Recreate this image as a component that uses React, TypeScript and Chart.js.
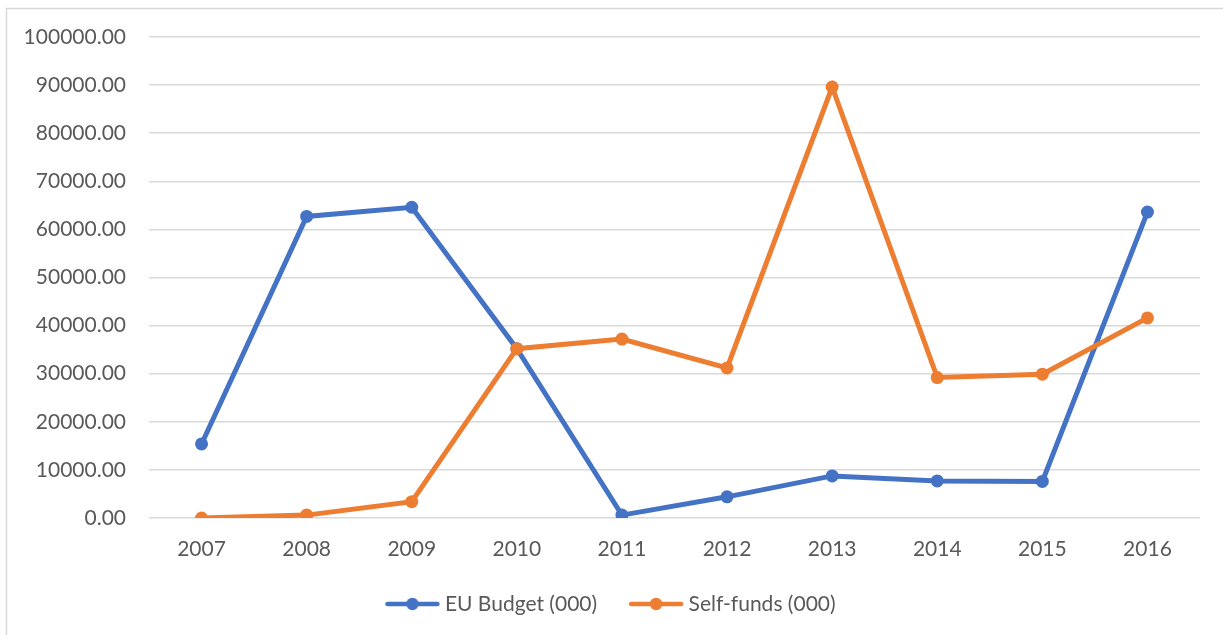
import React, { useEffect, useRef } from "react";
import { Chart, registerables } from "chart.js";

Chart.register(...registerables);

const years = ["2007", "2008", "2009", "2010", "2011", "2012", "2013", "2014", "2015", "2016"];
const euBudget = [15400, 62700, 64600, 35200, 600, 4400, 8750, 7700, 7600, 63600];
const selfFunds = [0, 600, 3400, 35200, 37200, 31200, 89600, 29200, 29900, 41600];
const seriesNames = ["EU Budget (000)", "Self-funds (000)"];
const seriesColors = ["#4472C4", "#ED7D31"];
const yMin = 0;
const yMax = 100000;
const yStep = 10000;

const FONT = "Lato, 'Open Sans', 'Liberation Sans', sans-serif";
const TEXT_COLOR = "#595959";
const GRID_COLOR = "#d9d9d9";

function legendSymbol(color: string): HTMLCanvasElement {
  const c = document.createElement("canvas");
  c.width = 82;
  c.height = 14;
  const ctx = c.getContext("2d")!;
  ctx.strokeStyle = color;
  ctx.lineWidth = 4.5;
  ctx.lineCap = "round";
  ctx.beginPath();
  ctx.moveTo(29, 7);
  ctx.lineTo(79, 7);
  ctx.stroke();
  ctx.fillStyle = color;
  ctx.beginPath();
  ctx.arc(54, 7, 6.2, 0, Math.PI * 2);
  ctx.fill();
  return c;
}

const frameBorder = {
  id: "frameBorder",
  beforeDraw(chart: any) {
    const ctx = chart.ctx;
    ctx.save();
    ctx.strokeStyle = GRID_COLOR;
    ctx.lineWidth = 1.5;
    ctx.beginPath();
    ctx.moveTo(6.5, 635);
    ctx.lineTo(6.5, 8.5);
    ctx.lineTo(1223, 8.5);
    ctx.stroke();
    ctx.restore();
  },
};

export default function App() {
  const ref = useRef<HTMLCanvasElement | null>(null);

  useEffect(() => {
    document.body.style.margin = "0";
    const canvas = ref.current;
    if (!canvas) return;
    const symbols = seriesColors.map((c) => legendSymbol(c));
    const seriesData = [euBudget, selfFunds];

    const chart = new Chart(canvas, {
      type: "line",
      data: {
        labels: years,
        datasets: seriesData.map((d, i) => ({
          label: seriesNames[i],
          data: d,
          borderColor: seriesColors[i],
          backgroundColor: seriesColors[i],
          pointBackgroundColor: seriesColors[i],
          pointBorderColor: seriesColors[i],
          borderWidth: 5,
          pointRadius: 6.5,
          pointBorderWidth: 0,
          tension: 0,
          fill: false,
          order: seriesData.length - i,
        })),
      },
      options: {
        animation: false,
        responsive: false,
        maintainAspectRatio: false,
        layout: { padding: { left: 0, right: 23, top: 37, bottom: 10.5 } },
        scales: {
          x: {
            type: "category",
            offset: true,
            grid: { display: false, drawTicks: false },
            border: { display: false },
            ticks: {
              color: TEXT_COLOR,
              font: { family: FONT, size: 21 },
              padding: 19,
              maxRotation: 0,
              autoSkip: false,
            },
            afterFit: (scale: any) => {
              scale.height = 64.5;
            },
          },
          y: {
            min: yMin,
            max: yMax,
            grid: { color: GRID_COLOR, lineWidth: 1.5, drawTicks: false },
            border: { display: false },
            ticks: {
              stepSize: yStep,
              color: TEXT_COLOR,
              font: { family: FONT, size: 21 },
              padding: 23,
              callback: (v: any) => Number(v).toFixed(2),
            },
            afterFit: (scale: any) => {
              scale.width = 149;
            },
          },
        },
        plugins: {
          tooltip: { enabled: false },
          title: { display: false },
          legend: {
            display: true,
            position: "bottom",
            labels: {
              usePointStyle: true,
              pointStyleWidth: 70,
              padding: 11,
              color: TEXT_COLOR,
              font: { family: FONT, size: 21 },
              generateLabels: (ch: any) =>
                ch.data.datasets.map((ds: any, i: number) => ({
                  text: ds.label,
                  fillStyle: seriesColors[i],
                  strokeStyle: seriesColors[i],
                  lineWidth: 0,
                  pointStyle: symbols[i],
                  hidden: false,
                  datasetIndex: i,
                  fontColor: TEXT_COLOR,
                })),
            },
          },
        },
      },
      plugins: [frameBorder],
    });
    return () => chart.destroy();
  }, []);

  return (
    <div style={{ width: 1223, height: 635, background: "#ffffff" }}>
      <canvas ref={ref} width={1223} height={635} />
    </div>
  );
}
